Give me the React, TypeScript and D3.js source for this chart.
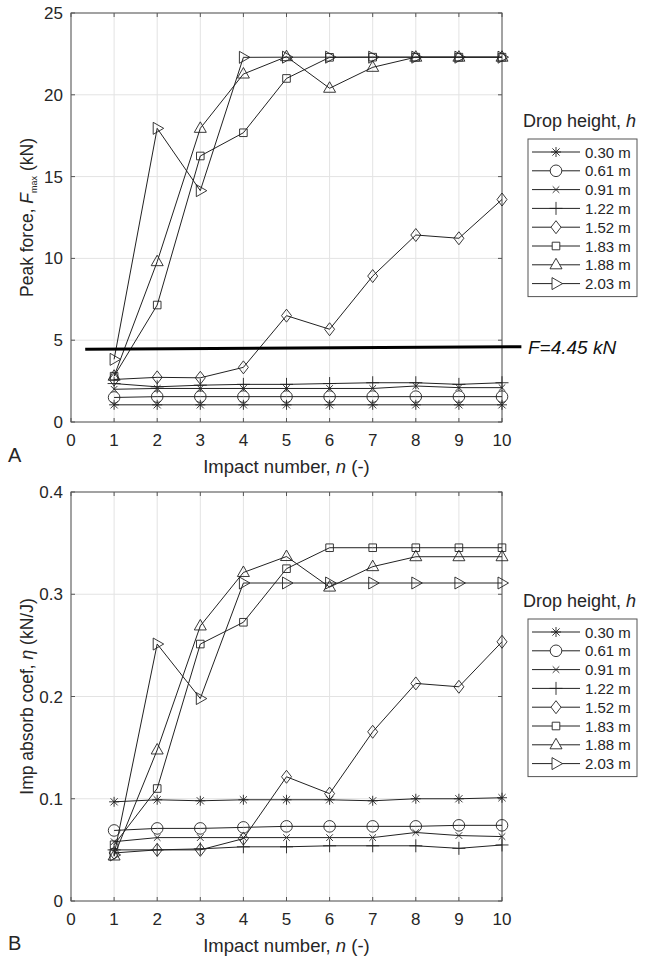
import React from "react";
import * as d3 from "d3";

const impacts = [1, 2, 3, 4, 5, 6, 7, 8, 9, 10];
const heights = ["0.30 m", "0.61 m", "0.91 m", "1.22 m", "1.52 m", "1.83 m", "1.88 m", "2.03 m"];
const markers = ["asterisk", "circle", "x", "plus", "diamond", "square", "triUp", "triRight"];

const force030 = [1.05, 1.05, 1.05, 1.05, 1.05, 1.05, 1.05, 1.05, 1.05, 1.05];
const force061 = [1.5, 1.55, 1.55, 1.55, 1.55, 1.55, 1.55, 1.55, 1.55, 1.55];
const force091 = [2.0, 2.05, 2.05, 2.05, 2.05, 2.05, 2.05, 2.2, 2.1, 2.1];
const force122 = [2.35, 2.15, 2.25, 2.3, 2.3, 2.35, 2.4, 2.4, 2.3, 2.4];
const force152 = [2.6, 2.73, 2.7, 3.34, 6.5, 5.67, 8.92, 11.43, 11.23, 13.6];
const force183 = [2.8, 7.15, 16.26, 17.68, 21.0, 22.29, 22.3, 22.3, 22.3, 22.3];
const force188 = [2.8, 9.8, 17.95, 21.27, 22.33, 20.4, 21.68, 22.3, 22.3, 22.3];
const force203 = [3.83, 17.95, 14.14, 22.29, 22.3, 22.3, 22.3, 22.3, 22.3, 22.3];

const eta030 = [0.097, 0.099, 0.098, 0.099, 0.099, 0.099, 0.098, 0.1, 0.1, 0.101];
const eta061 = [0.069, 0.071, 0.071, 0.072, 0.073, 0.073, 0.073, 0.073, 0.074, 0.074];
const eta091 = [0.058, 0.062, 0.062, 0.062, 0.062, 0.062, 0.062, 0.067, 0.064, 0.063];
const eta122 = [0.05, 0.05, 0.051, 0.053, 0.053, 0.054, 0.054, 0.054, 0.0515, 0.0548];
const eta152 = [0.047, 0.05, 0.05, 0.061, 0.1215, 0.105, 0.1655, 0.2128, 0.2095, 0.2535];
const eta183 = [0.055, 0.11, 0.2513, 0.2726, 0.325, 0.3455, 0.3455, 0.3455, 0.3455, 0.3455];
const eta188 = [0.044, 0.1477, 0.269, 0.3213, 0.3369, 0.307, 0.327, 0.3367, 0.3367, 0.3367];
const eta203 = [0.045, 0.2513, 0.198, 0.311, 0.311, 0.311, 0.311, 0.311, 0.311, 0.311];

const forceSeries = [force030, force061, force091, force122, force152, force183, force188, force203];
const etaSeries = [eta030, eta061, eta091, eta122, eta152, eta183, eta188, eta203];

const xTicks = [0, 1, 2, 3, 4, 5, 6, 7, 8, 9, 10];
const forceTicks = [0, 5, 10, 15, 20, 25];
const etaTicks = [0, 0.1, 0.2, 0.3, 0.4];
const thresholdLine = [
  { n: 0.33, f: 4.45 },
  { n: 10.45, f: 4.6 },
];

const FONT = "'Liberation Sans', Arial, Helvetica, sans-serif";
const AX = "#555";
const GRID = "#e3e3e3";
const TXT = "#262626";

function markerPath(type: string): string {
  switch (type) {
    case "asterisk": {
      const r = 5, d = 3.6;
      return `M0,${-r}V${r}M${-r},0H${r}M${-d},${-d}L${d},${d}M${-d},${d}L${d},${-d}`;
    }
    case "circle": {
      const r = 5.8;
      return `M${r},0A${r},${r} 0 1,1 ${-r},0A${r},${r} 0 1,1 ${r},0Z`;
    }
    case "x": {
      const d = 3.3;
      return `M${-d},${-d}L${d},${d}M${-d},${d}L${d},${-d}`;
    }
    case "plus": {
      const r = 6.5;
      return `M0,${-r}V${r}M${-r},0H${r}`;
    }
    case "diamond":
      return `M0,-6.5L5,0L0,6.5L-5,0Z`;
    case "square":
      return `M-3.8,-3.8H3.8V3.8H-3.8Z`;
    case "triUp":
      return `M0,-6.5L6,4L-6,4Z`;
    case "triRight":
      return `M6.5,0L-4,-6L-4,6Z`;
  }
  return "";
}

type PanelProps = {
  top: number;
  bottom: number;
  yMax: number;
  yTicks: number[];
  series: number[][];
  yFmt: (v: number) => string;
};

const LEFT = 71;
const RIGHT = 502;

function Panel({ top, bottom, yMax, yTicks, series, yFmt }: PanelProps) {
  const x = d3.scaleLinear().domain([0, 10]).range([LEFT, RIGHT]);
  const y = d3.scaleLinear().domain([0, yMax]).range([bottom, top]);
  const line = d3
    .line<number>()
    .x((_, i) => x(impacts[i]))
    .y((v) => y(v));
  return (
    <g>
      <rect x={LEFT} y={top} width={RIGHT - LEFT} height={bottom - top} fill="white" />
      {xTicks.map((t) => (
        <line key={"gx" + t} x1={x(t)} x2={x(t)} y1={top} y2={bottom} stroke={GRID} strokeWidth={1} />
      ))}
      {yTicks.map((t) => (
        <line key={"gy" + t} x1={LEFT} x2={RIGHT} y1={y(t)} y2={y(t)} stroke={GRID} strokeWidth={1} />
      ))}
      {xTicks.map((t) => (
        <g key={"tx" + t}>
          <line x1={x(t)} x2={x(t)} y1={bottom} y2={bottom - 4} stroke={AX} />
          <line x1={x(t)} x2={x(t)} y1={top} y2={top + 4} stroke={AX} />
          <text x={x(t)} y={bottom + 24} textAnchor="middle" fontSize={17} fill={TXT} fontFamily={FONT}>
            {t}
          </text>
        </g>
      ))}
      {yTicks.map((t) => (
        <g key={"ty" + t}>
          <line x1={LEFT} x2={LEFT + 4} y1={y(t)} y2={y(t)} stroke={AX} />
          <line x1={RIGHT} x2={RIGHT - 4} y1={y(t)} y2={y(t)} stroke={AX} />
          <text x={LEFT - 8} y={y(t) + 6} textAnchor="end" fontSize={17} fill={TXT} fontFamily={FONT}>
            {yFmt(t)}
          </text>
        </g>
      ))}
      <rect x={LEFT} y={top} width={RIGHT - LEFT} height={bottom - top} fill="none" stroke={AX} strokeWidth={1} />
      {series.map((s, si) => (
        <g key={"s" + si}>
          <path d={line(s) || ""} fill="none" stroke="#222" strokeWidth={1} />
          {s.map((v, i) => (
            <path
              key={i}
              d={markerPath(markers[si])}
              transform={`translate(${x(impacts[i])},${y(v)})`}
              fill="none"
              stroke="#222"
              strokeWidth={0.9}
            />
          ))}
        </g>
      ))}
      <text x={(LEFT + RIGHT) / 2} y={bottom + 51} textAnchor="middle" fontSize={18.5} fill={TXT} fontFamily={FONT}>
        Impact number, <tspan fontStyle="italic">n</tspan> (-)
      </text>
    </g>
  );
}

function Legend({ titleY }: { titleY: number }) {
  const boxTop = titleY + 12;
  const rowH = 18.8;
  const first = boxTop + 13;
  return (
    <g fontFamily={FONT}>
      <text x={523} y={titleY} fontSize={18} fill={TXT}>
        Drop height, <tspan fontStyle="italic">h</tspan>
      </text>
      <rect x={528} y={boxTop} width={109} height={rowH * 7 + 26} fill="white" stroke={AX} strokeWidth={1} />
      {heights.map((h, i) => {
        const cy = first + i * rowH;
        return (
          <g key={h}>
            <line x1={532} x2={580} y1={cy} y2={cy} stroke="#222" strokeWidth={1} />
            <path d={markerPath(markers[i])} transform={`translate(556,${cy})`} fill="white" stroke="#222" strokeWidth={0.9} />
            <text x={585} y={cy + 5.5} fontSize={15} fill={TXT}>
              {h}
            </text>
          </g>
        );
      })}
    </g>
  );
}

export default function App() {
  const xTop = d3.scaleLinear().domain([0, 10]).range([LEFT, RIGHT]);
  const yTop = d3.scaleLinear().domain([0, 25]).range([422, 13]);
  const thr = d3
    .line<{ n: number; f: number }>()
    .x((d) => xTop(d.n))
    .y((d) => yTop(d.f));
  return (
    <svg width={649} height={960} style={{ position: "absolute", left: 0, top: 0, background: "white" }}>
      <rect width={649} height={960} fill="white" />
      <Panel top={13} bottom={422} yMax={25} yTicks={forceTicks} series={forceSeries} yFmt={(v) => String(v)} />
      <Panel top={492} bottom={901} yMax={0.4} yTicks={etaTicks} series={etaSeries} yFmt={(v) => (v === 0 ? "0" : String(v))} />
      <path d={thr(thresholdLine) || ""} stroke="black" strokeWidth={3} fill="none" />
      <text x={528} y={354} fontSize={19} fontStyle="italic" fill="#111" fontFamily={FONT}>
        F=4.45 kN
      </text>
      <text
        transform={`translate(33,${(13 + 422) / 2}) rotate(-90)`}
        textAnchor="middle"
        fontSize={17.5}
        fill={TXT}
        fontFamily={FONT}
      >
        Peak force, <tspan fontStyle="italic">F</tspan>
        <tspan fontSize={9} dy={4}>max</tspan>
        <tspan dy={-4}> (kN)</tspan>
      </text>
      <text
        transform={`translate(33,${(492 + 901) / 2}) rotate(-90)`}
        textAnchor="middle"
        fontSize={17.5}
        fill={TXT}
        fontFamily={FONT}
      >
        Imp absorb coef, <tspan fontStyle="italic">η</tspan> (kN/J)
      </text>
      <Legend titleY={127} />
      <Legend titleY={607} />
      <text x={8} y={462} fontSize={20} fill={TXT} fontFamily={FONT}>A</text>
      <text x={8} y={950} fontSize={20} fill={TXT} fontFamily={FONT}>B</text>
    </svg>
  );
}
